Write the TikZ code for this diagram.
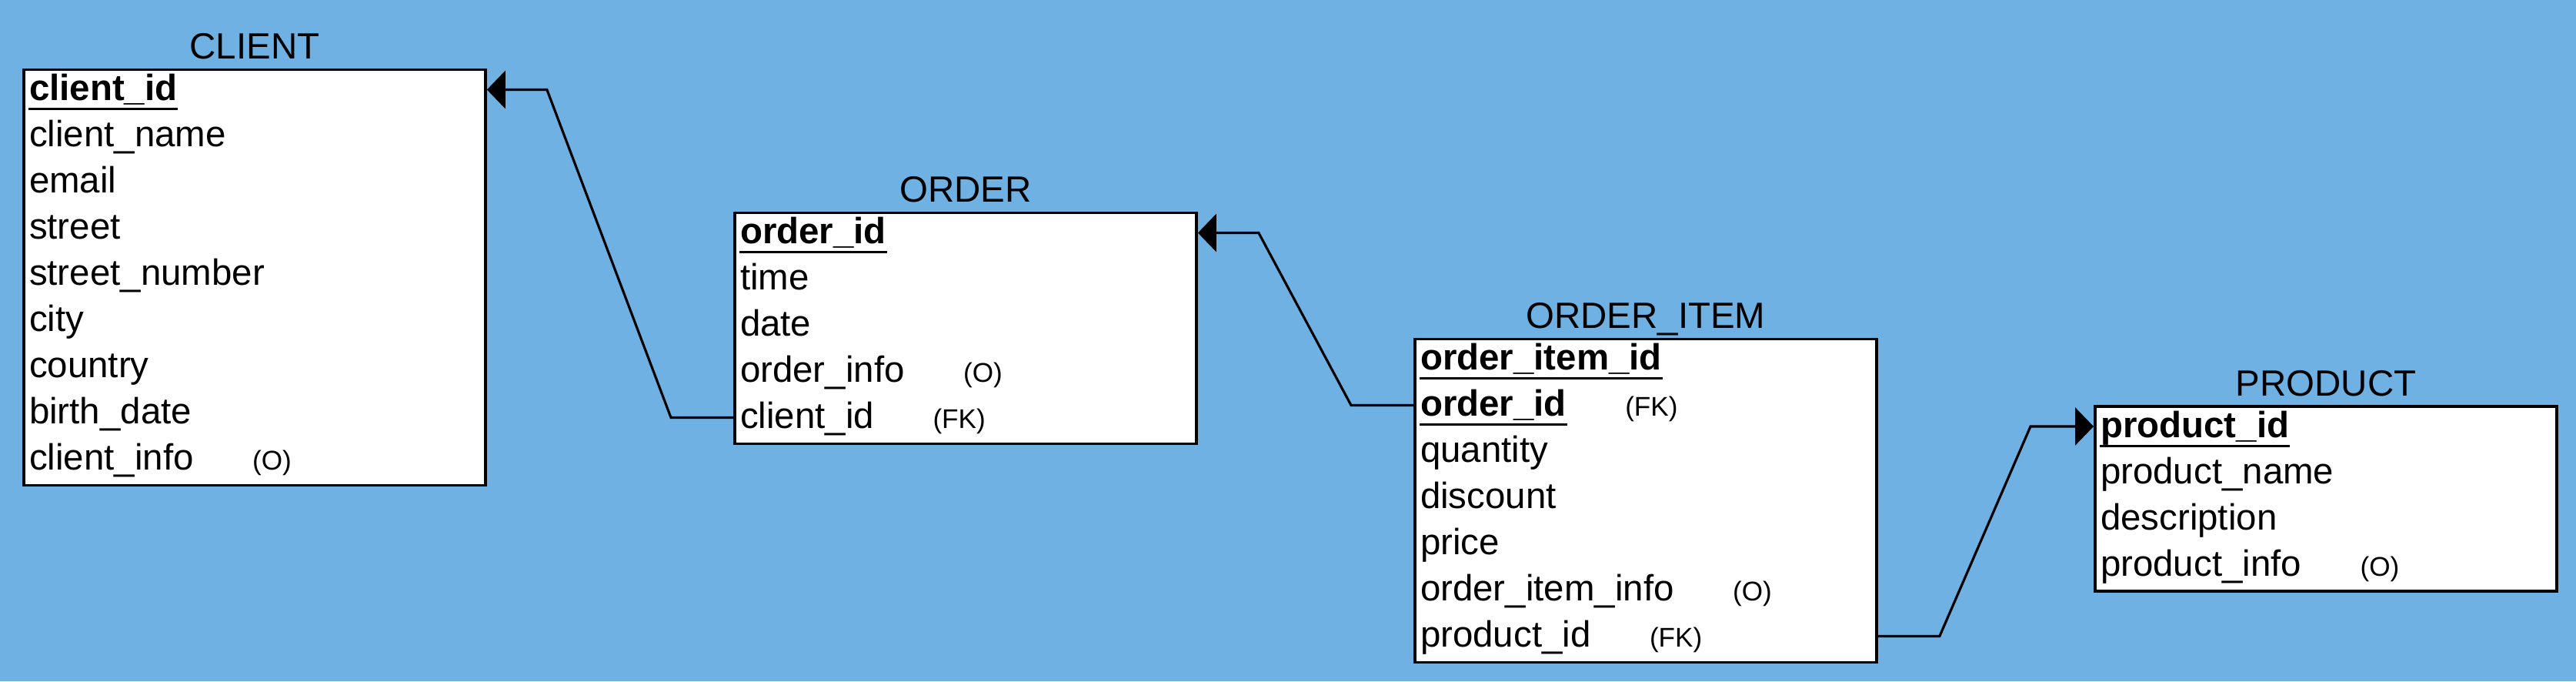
\documentclass[tikz,border=0pt]{standalone}
\usepackage{fontspec}
\setmainfont{Liberation Sans}
\usetikzlibrary{arrows.meta,positioning}
\definecolor{erbg}{RGB}{111,177,227}

\begin{document}
\begin{tikzpicture}[
    table/.style={draw, fill=white, line width=1.1pt, minimum width=6cm, inner sep=0pt, anchor=north west},
    title/.style={font=\fontsize{13.5}{16}\selectfont, inner sep=0pt, text depth=0pt},
    field/.style={font=\fontsize{13.5}{16}\selectfont, inner sep=0pt, anchor=base west, text height=0.38cm, text depth=0.1cm},
    key/.style={field, font=\fontsize{13.5}{16}\selectfont\bfseries},
    note/.style={font=\fontsize{10}{12}\selectfont, inner sep=0pt},
    keyline/.style={line width=0.85pt},
    fk/.style={line width=0.9pt, -{Triangle[length=0.24cm, width=0.49cm]}},
    node distance=0.75cm]
    \useasboundingbox (0,0) rectangle (33.48,8.85);
    \fill[erbg] (0,0) rectangle (33.48,8.85);

    % CLIENT
    \node[table, minimum height=5.4cm] (client) at (0.29,7.965) {};
    \node[title, above=0.11cm of client] (client-t) {CLIENT};
    \node[key] (client-0) at ([shift={(0.083,-0.42)}]client.north west) {client\_id};
    \foreach \f [count=\i] in {client\_name, email, street, street\_number, city, country, birth\_date, client\_info}
        \node[field] (client-\i) at ([shift={(0.083,-0.42-0.6*\i)}]client.north west) {\f};
    \node[note, base right=of client-8] (client-o) {(O)};

    % ORDER
    \node[table, minimum height=3cm] (order) at (9.53,6.105) {};
    \node[title, above=0.11cm of order] (order-t) {ORDER};
    \node[key] (order-0) at ([shift={(0.083,-0.42)}]order.north west) {order\_id};
    \foreach \f [count=\i] in {time, date, order\_info, client\_id}
        \node[field] (order-\i) at ([shift={(0.083,-0.42-0.6*\i)}]order.north west) {\f};
    \node[note, base right=of order-3] (order-o) {(O)};
    \node[note, base right=of order-4] (order-fk) {(FK)};

    % ORDER_ITEM
    \node[table, minimum height=4.2cm] (item) at (18.37,4.465) {};
    \node[title, above=0.11cm of item] (item-t) {ORDER\_ITEM};
    \node[key] (item-0) at ([shift={(0.083,-0.42)}]item.north west) {order\_item\_id};
    \node[key] (item-1) at ([shift={(0.083,-1.02)}]item.north west) {order\_id};
    \foreach \f [count=\i from 2] in {quantity, discount, price, order\_item\_info, product\_id}
        \node[field] (item-\i) at ([shift={(0.083,-0.42-0.6*\i)}]item.north west) {\f};
    \node[note, base right=of item-1] (item-fk1) {(FK)};
    \node[note, base right=of item-5] (item-o) {(O)};
    \node[note, base right=of item-6] (item-fk2) {(FK)};

    % PRODUCT
    \node[table, minimum height=2.4cm] (product) at (27.21,3.59) {};
    \node[title, above=0.11cm of product] (product-t) {PRODUCT};
    \node[key] (product-0) at ([shift={(0.083,-0.42)}]product.north west) {product\_id};
    \foreach \f [count=\i] in {product\_name, description, product\_info}
        \node[field] (product-\i) at ([shift={(0.083,-0.42-0.6*\i)}]product.north west) {\f};
    \node[note, base right=of product-3] (product-o) {(O)};

    % key underlines
    \foreach \k in {client-0, order-0, item-0, item-1, product-0}
        \draw[keyline] ([yshift=-0.11cm]\k.base west) -- ([yshift=-0.11cm]\k.base east);

    % foreign keys
    \draw[fk] (order.west |- order-4.west) -- ++(-0.81,0)
        -- ([xshift=0.78cm]client.east |- client-0.east) -- (client.east |- client-0.east);
    \draw[fk] (item.west |- item-1.west) -- ++(-0.81,0)
        -- ([xshift=0.79cm]order.east |- order-0.east) -- (order.east |- order-0.east);
    \draw[fk] (item.east |- item-6.east) -- ++(0.8,0)
        -- ([xshift=-0.82cm]product.west |- product-0.west) -- (product.west |- product-0.west);
\end{tikzpicture}
\end{document}
